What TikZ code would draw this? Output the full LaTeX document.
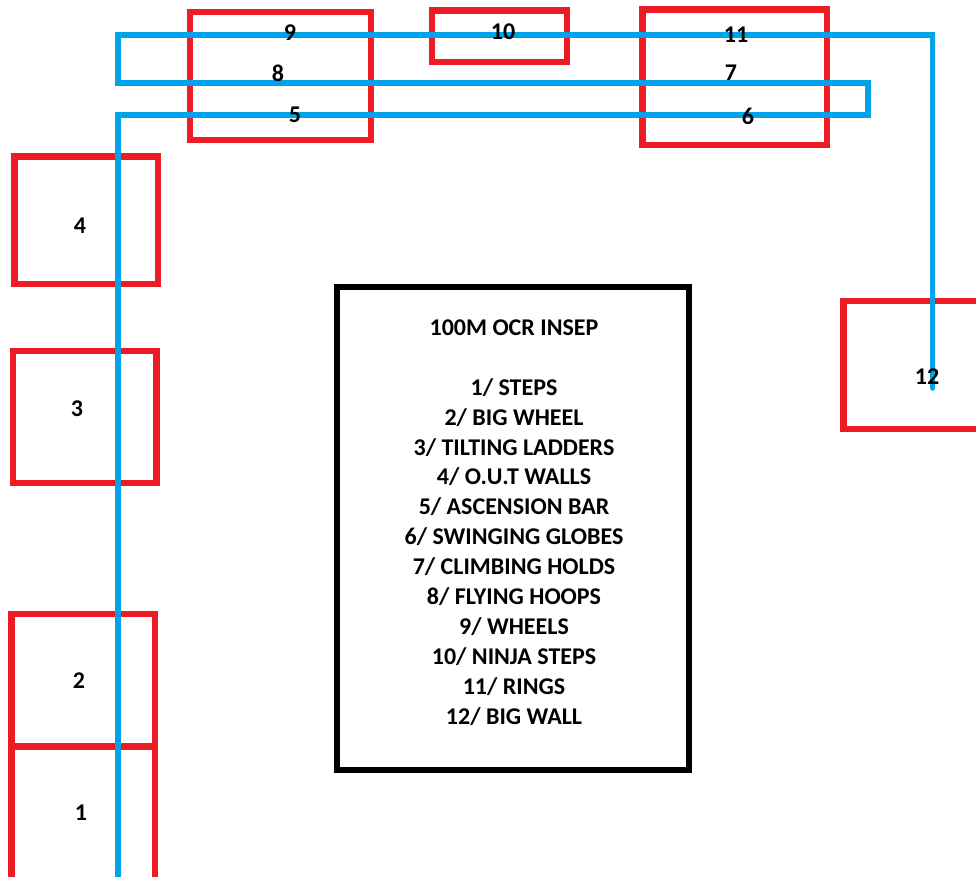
\documentclass[tikz,border=0pt]{standalone}
\usepackage{fontspec}
\setmainfont{Carlito}
\definecolor{paintred}{RGB}{237,28,36}
\definecolor{paintblue}{RGB}{0,162,232}
\tikzset{
  zone/.style={draw=paintred, line width=6.5pt},
  legendbox/.style={draw=black, line width=5.5pt},
  route/.style={draw=paintblue, line width=5.5pt, line cap=round},
  num/.style={font=\fontsize{24}{28}\selectfont\bfseries, inner sep=0pt},
}
\begin{document}
\begin{tikzpicture}[x=1pt,y=-1pt]
\useasboundingbox (0,0) rectangle (976,877);
\begin{scope}
\clip (0,0) rectangle (976,877);
% red zones
\draw[zone] (190,12) rectangle (371,140);
\draw[zone] (432,10.5) rectangle (567,62);
\draw[zone] (642.5,9.5) rectangle (827,145);
\draw[zone] (14.5,156.5) rectangle (158,284);
\draw[zone] (13,351) rectangle (156.5,483);
\draw[zone] (11.5,614) rectangle (155,746.5);
\draw[zone] (11.5,746.5) rectangle (155,895);
\draw[zone] (843.5,301) rectangle (995,429);
% legend box
\draw[legendbox] (337,287) rectangle (689,770);
% route
\coordinate (r0) at (118,890);
\coordinate (r1) at (118,115);
\coordinate (r2) at (868,115);
\coordinate (r3) at (868,83);
\coordinate (r4) at (118,83);
\coordinate (r5) at (118,35);
\coordinate (r6) at (932.5,35);
\coordinate (r7) at (932.5,388);
\draw[route] (r0) -- (r1) -- (r2) -- (r3) -- (r4) -- (r5) -- (r6) -- (r7);
\end{scope}
% labels
\node[num] (n1) at (81,813) {1};
\node[num] (n2) at (79,681) {2};
\node[num] (n3) at (77,409) {3};
\node[num] (n4) at (80,226) {4};
\node[num] (n5) at (295,115) {5};
\node[num] (n6) at (748,116) {6};
\node[num] (n7) at (731,73) {7};
\node[num] (n8) at (278,73) {8};
\node[num] (n9) at (290,33) {9};
\node[num] (n10) at (503,32) {10};
\node[num] (n11) at (736,35) {11};
\node[num] (n12) at (927,377) {12};
% legend
\node[align=center, inner sep=0pt, font=\fontsize{24}{29.92}\selectfont\bfseries] (legend) at (514,522.5)
{100M OCR INSEP\\[29.92pt]
1/ STEPS\\
2/ BIG WHEEL\\
3/ TILTING LADDERS\\
4/ O.U.T WALLS\\
5/ ASCENSION BAR\\
6/ SWINGING GLOBES\\
7/ CLIMBING HOLDS\\
8/ FLYING HOOPS\\
9/ WHEELS\\
10/ NINJA STEPS\\
11/ RINGS\\
12/ BIG WALL};
\end{tikzpicture}
\end{document}
